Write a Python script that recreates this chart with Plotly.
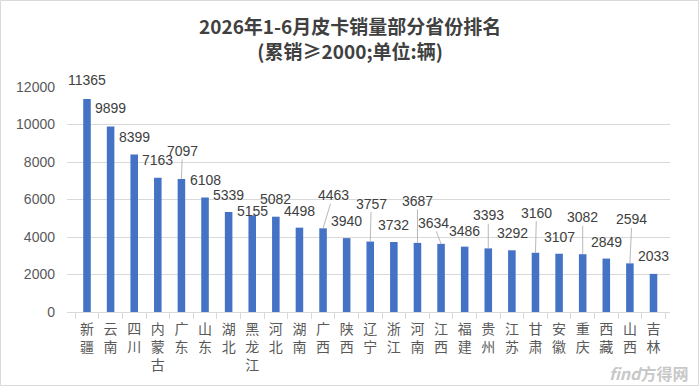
import plotly.graph_objects as go

provinces = ["新疆", "云南", "四川", "内蒙古", "广东", "山东", "湖北", "黑龙江", "河北", "湖南",
             "广西", "陕西", "辽宁", "浙江", "河南", "江西", "福建", "贵州", "江苏", "甘肃",
             "安徽", "重庆", "西藏", "山西", "吉林"]
sales = [11365, 9899, 8399, 7163, 7097, 6108, 5339, 5155, 5082, 4498,
         4463, 3940, 3757, 3732, 3687, 3634, 3486, 3393, 3292, 3160,
         3107, 3082, 2849, 2594, 2033]
y_ticks = [0, 2000, 4000, 6000, 8000, 10000, 12000]
y_tick_text = [str(t) for t in y_ticks]
title_lines = ["2026年1-6月皮卡销量部分省份排名", "(累销≥2000;单位:辆)"]

# label placement (pixel offsets from bar top) and whether a leader line is drawn
label_dx = [0, 0, 0, 0, 1, 0, 0, 0, 0, 0, 10, 0, 1, 0, 0, -8, 0, 0, 1, 1, 0, 0, 0, 2, 0]
label_dy = [-19, -18, -18, -18, -28, -17, -17, -4, -18, -17, -33, -17, -38, -17, -42, -21,
            -16, -33, -17, -40, -17, -37, -17, -44, -18]
leader = [0, 0, 0, 0, 1, 0, 0, 0, 0, 0, 1, 0, 1, 0, 1, 1, 0, 1, 0, 1, 0, 1, 0, 1, 0]

cat_labels = ["<br>".join(list(p)) for p in provinces]

fig = go.Figure()
fig.add_trace(go.Bar(x=provinces, y=sales, marker=dict(color="#4472c4", line=dict(width=0)),
                     width=0.32, hoverinfo="x+y"))

annotations = []
for p, v, dx, dy, ld in zip(provinces, sales, label_dx, label_dy, leader):
    annotations.append(dict(
        x=p, y=v, xref="x", yref="y", text=str(v), showarrow=True,
        ax=dx, ay=dy, arrowhead=0, arrowwidth=0.8, standoff=0, startstandoff=0,
        arrowcolor="#a6a6a6" if ld else "rgba(0,0,0,0)",
        font=dict(family="Liberation Sans, Arial, sans-serif", size=14, color="#404040"),
        borderpad=0,
    ))

# title (two centred lines in one block)
annotations.append(dict(
    x=(350 - 67) / 603, y=1.2178, xref="paper", yref="paper", xanchor="center", yanchor="middle",
    text="<b>" + "<br>".join(title_lines) + "</b>", showarrow=False, align="center",
    font=dict(family="Noto Sans CJK SC, sans-serif", size=19, color="#404040"),
))

# watermark
annotations.append(dict(
    x=(648 - 67) / 603, y=-0.27, xref="paper", yref="paper", xanchor="center", yanchor="middle",
    text="<b><i>find</i>方得网</b>", showarrow=False,
    font=dict(family="Noto Sans CJK SC, sans-serif", size=16, color="#c8c8c8"),
))

fig.update_layout(
    width=700, height=387,
    margin=dict(l=67, r=30, t=87, b=75),
    paper_bgcolor="white", plot_bgcolor="white",
    bargap=0.67,
    showlegend=False,
    xaxis=dict(
        type="category", tickmode="array", tickvals=provinces, ticktext=cat_labels,
        showline=True, linecolor="#d9d9d9", linewidth=1,
        ticks="outside", tickson="boundaries", ticklen=6, tickcolor="#d9d9d9",
        tickfont=dict(family="Noto Sans CJK SC, sans-serif", size=14, color="#595959"),
        showgrid=False, tickangle=0, ticklabelstandoff=4,
    ),
    yaxis=dict(
        range=[0, 12000], tickmode="array", tickvals=y_ticks, ticktext=y_tick_text,
        showgrid=True, gridcolor="#d9d9d9", gridwidth=1,
        zeroline=False, showline=False, ticks="", ticklabelstandoff=11,
        tickfont=dict(family="Liberation Sans, Arial, sans-serif", size=14, color="#595959"),
    ),
    annotations=annotations,
    shapes=[dict(type="rect", xref="paper", yref="paper",
                 x0=-0.1103, x1=1.0473, y0=-0.3267, y1=1.3844,
                 line=dict(color="#d9d9d9", width=1), fillcolor="rgba(0,0,0,0)", layer="below")],
)

fig.write_html("out.html")
